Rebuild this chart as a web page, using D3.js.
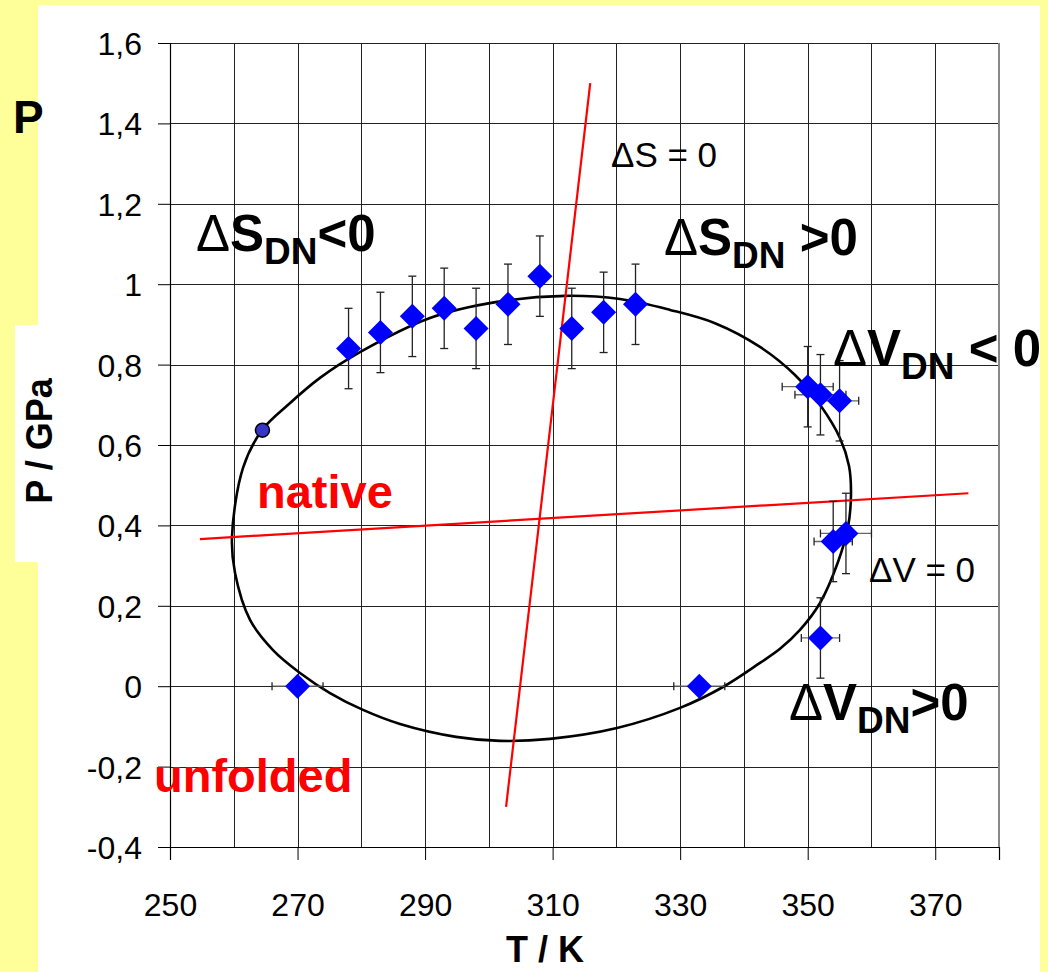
<!DOCTYPE html>
<html>
<head>
<meta charset="utf-8">
<script src="https://cdn.jsdelivr.net/npm/d3@7"></script>
<style>
  body { margin: 0; background: #ffff99; }
  svg { display: block; font-family: "Liberation Sans", Arial, sans-serif; }
</style>
</head>
<body>
<svg id="chart" width="1048" height="972"></svg>
<script>
// Measured transition points (temperature in K, pressure in GPa)
const temps    = [278, 283, 288, 293, 298, 303, 308, 313, 318, 323, 350, 352, 355, 354, 356, 352, 270, 333];
const pressure = [0.84, 0.88, 0.92, 0.94, 0.89, 0.95, 1.02, 0.89, 0.93, 0.95, 0.745, 0.725, 0.71, 0.36, 0.38, 0.12, 0, 0];
const pErr     = [0.1, 0.1, 0.1, 0.1, 0.1, 0.1, 0.1, 0.1, 0.1, 0.1, 0.1, 0.1, 0.1, 0.1, 0.1, 0.1, 0, 0];
const tErr     = [0, 0, 0, 0, 0, 0, 0, 0, 0, 0, 4, 4, 3, 3, 4, 3, 4, 4];

// Extra single point shown as a circle
const circleT = [264.5];
const circleP = [0.637];

// Phase-boundary contour (closed, T / P pairs)
const ellipseT = [259.72, 261.45, 264.43, 268.66, 273.52, 279.79, 290.77, 301.28, 311.94, 320.57, 328.41, 335.46, 342.52, 348.01, 351.93, 355.07, 356.48, 356.79, 356.32, 354.75, 351.93, 348.79, 345.66, 342.52, 336.72, 329.98, 320.10, 309.59, 301.75, 294.85, 286.07, 280.27, 275.09, 270.39, 266.15, 262.55, 260.19];
const ellipseP = [0.371, 0.543, 0.637, 0.702, 0.767, 0.831, 0.916, 0.956, 0.971, 0.963, 0.936, 0.903, 0.844, 0.774, 0.700, 0.617, 0.548, 0.476, 0.396, 0.309, 0.207, 0.140, 0.093, 0.058, -0.002, -0.054, -0.104, -0.131, -0.136, -0.126, -0.094, -0.059, -0.017, 0.033, 0.090, 0.165, 0.282];

// Lines of zero entropy change and zero volume change
const dSZeroT = [302.7, 315.9];
const dSZeroP = [-0.3, 1.5];
const dVZeroT = [254.7, 375.2];
const dVZeroP = [0.366, 0.48];

// Axis ticks
const xTicks = [250, 270, 290, 310, 330, 350, 370];
const xTickLabels = ["250", "270", "290", "310", "330", "350", "370"];
const yTicks = [1.6, 1.4, 1.2, 1.0, 0.8, 0.6, 0.4, 0.2, 0, -0.2, -0.4];
const yTickLabels = ["1,6", "1,4", "1,2", "1", "0,8", "0,6", "0,4", "0,2", "0", "-0,2", "-0,4"];
const xGrid = [250, 260, 270, 280, 290, 300, 310, 320, 330, 340, 350, 360, 370, 380];

const svg = d3.select("#chart");
const W = 1048, H = 972;

const x = d3.scaleLinear().domain([250, 380]).range([170, 999]);
const y = d3.scaleLinear().domain([-0.4, 1.6]).range([847, 43]);

// Panels
svg.append("rect").attr("x", 0).attr("y", 0).attr("width", W).attr("height", H).attr("fill", "#ffff99");
svg.append("rect").attr("x", 38).attr("y", 5).attr("width", 1002).attr("height", H - 5).attr("fill", "#ffffff");
svg.append("rect").attr("x", 15).attr("y", 325).attr("width", 25).attr("height", 237).attr("fill", "#ffffff");

// Grid
const grid = svg.append("g").attr("stroke", "#222").attr("stroke-width", 1).attr("shape-rendering", "crispEdges");
grid.selectAll("line.v").data(xGrid).join("line")
  .attr("x1", d => Math.round(x(d)) + 0.5).attr("x2", d => Math.round(x(d)) + 0.5)
  .attr("y1", y(1.6)).attr("y2", y(-0.4));
grid.selectAll("line.h").data(yTicks).join("line")
  .attr("y1", d => Math.round(y(d)) + 0.5).attr("y2", d => Math.round(y(d)) + 0.5)
  .attr("x1", x(250)).attr("x2", x(380));

// Right frame edge
svg.append("line").attr("x1", x(380)).attr("x2", x(380)).attr("y1", y(1.6)).attr("y2", y(-0.4))
  .attr("stroke", "#888").attr("stroke-width", 2);

// Axes
const yAxis = d3.axisLeft(y).tickValues(yTicks).tickSize(12).tickPadding(16)
  .tickFormat((d, i) => yTickLabels[i]);
const gy = svg.append("g").attr("transform", `translate(${x(250)},0)`).call(yAxis);
gy.select(".domain").attr("stroke", "#000").attr("stroke-width", 1.2);
gy.selectAll(".tick line").attr("stroke", "#000");
gy.selectAll(".tick text").attr("font-size", 32).attr("fill", "#000")
  .attr("font-family", "Liberation Sans, Arial, sans-serif").attr("dy", "0.36em");

const xAxis = d3.axisBottom(x).tickValues(xTicks).tickSize(13).tickPadding(33)
  .tickFormat((d, i) => xTickLabels[i]);
const gx = svg.append("g").attr("transform", `translate(0,${y(-0.4)})`).call(xAxis);
gx.select(".domain").attr("stroke", "#000").attr("stroke-width", 1.2);
gx.selectAll(".tick line").attr("stroke", "#000");
gx.selectAll(".tick text").attr("font-size", 32).attr("fill", "#000")
  .attr("font-family", "Liberation Sans, Arial, sans-serif");

// Axis titles
svg.append("text").attr("transform", "translate(52,441) rotate(-90)")
  .attr("text-anchor", "middle").attr("font-size", 36).attr("font-weight", "bold").text("P / GPa");
svg.append("text").attr("x", 545).attr("y", 962)
  .attr("text-anchor", "middle").attr("font-size", 36).attr("font-weight", "bold").text("T / K");
svg.append("text").attr("x", 13).attr("y", 133)
  .attr("font-size", 46).attr("font-weight", "bold").text("P");

// Boundary contour
const pts = ellipseT.map((t, i) => [x(t), y(ellipseP[i])]);
svg.append("path")
  .attr("d", d3.line().curve(d3.curveCatmullRomClosed.alpha(0.5))(pts))
  .attr("fill", "none").attr("stroke", "#000").attr("stroke-width", 2.6);

// Zero lines
const redLine = (ts, ps) => svg.append("line")
  .attr("x1", x(ts[0])).attr("y1", y(ps[0])).attr("x2", x(ts[1])).attr("y2", y(ps[1]))
  .attr("stroke", "#ff0000").attr("stroke-width", 2.2);
redLine(dSZeroT, dSZeroP);
redLine(dVZeroT, dVZeroP);

// Error bars
const pts2 = temps.map((t, i) => ({ t, p: pressure[i], ep: pErr[i], et: tErr[i] }));
const eb = svg.append("g").attr("stroke", "#222").attr("stroke-width", 1.3);
const cap = 4;
pts2.forEach(d => {
  if (d.ep > 0) {
    const cx = x(d.t), y1 = y(d.p + d.ep), y2 = y(d.p - d.ep);
    eb.append("line").attr("x1", cx).attr("x2", cx).attr("y1", y1).attr("y2", y2);
    eb.append("line").attr("x1", cx - cap).attr("x2", cx + cap).attr("y1", y1).attr("y2", y1);
    eb.append("line").attr("x1", cx - cap).attr("x2", cx + cap).attr("y1", y2).attr("y2", y2);
  }
  if (d.et > 0) {
    const cy = y(d.p), x1 = x(d.t - d.et), x2 = x(d.t + d.et);
    eb.append("line").attr("x1", x1).attr("x2", x2).attr("y1", cy).attr("y2", cy).attr("stroke", "#666");
    eb.append("line").attr("x1", x1).attr("x2", x1).attr("y1", cy - cap).attr("y2", cy + cap);
    eb.append("line").attr("x1", x2).attr("x2", x2).attr("y1", cy - cap).attr("y2", cy + cap);
  }
});

// Diamonds
const r = 12.5;
svg.append("g").selectAll("path").data(pts2).join("path")
  .attr("transform", d => `translate(${x(d.t)},${y(d.p)})`)
  .attr("d", `M0,${-r}L${r},0L0,${r}L${-r},0Z`)
  .attr("fill", "#0000ff");

// Circle point
svg.append("g").selectAll("circle").data(circleT).join("circle")
  .attr("cx", d => x(d)).attr("cy", (d, i) => y(circleP[i])).attr("r", 7)
  .attr("fill", "#3636c8").attr("stroke", "#000").attr("stroke-width", 1.5);

// Region labels with subscripts
function regionLabel(px, py, sym, tail) {
  const t = svg.append("text").attr("x", px).attr("y", py).attr("font-size", 51).attr("font-weight", "bold");
  t.append("tspan").attr("font-weight", "normal").text("\u0394");
  t.append("tspan").text(sym);
  t.append("tspan").attr("font-size", 37).attr("dy", 13).text("DN");
  t.append("tspan").attr("dy", -13).text(tail);
}
regionLabel(196, 251, "S", "<0");
regionLabel(664, 255, "S", " >0");
regionLabel(833, 366, "V", " < 0");
regionLabel(789, 720, "V", ">0");

svg.append("text").attr("x", 257).attr("y", 508).attr("font-size", 47).attr("font-weight", "bold")
  .attr("fill", "#ff0000").text("native");
svg.append("text").attr("x", 154).attr("y", 792).attr("font-size", 47).attr("font-weight", "bold")
  .attr("fill", "#ff0000").text("unfolded");

svg.append("text").attr("x", 611).attr("y", 167).attr("font-size", 35).text("\u0394S = 0");
svg.append("text").attr("x", 869).attr("y", 582).attr("font-size", 35).text("\u0394V = 0");
</script>
</body>
</html>
